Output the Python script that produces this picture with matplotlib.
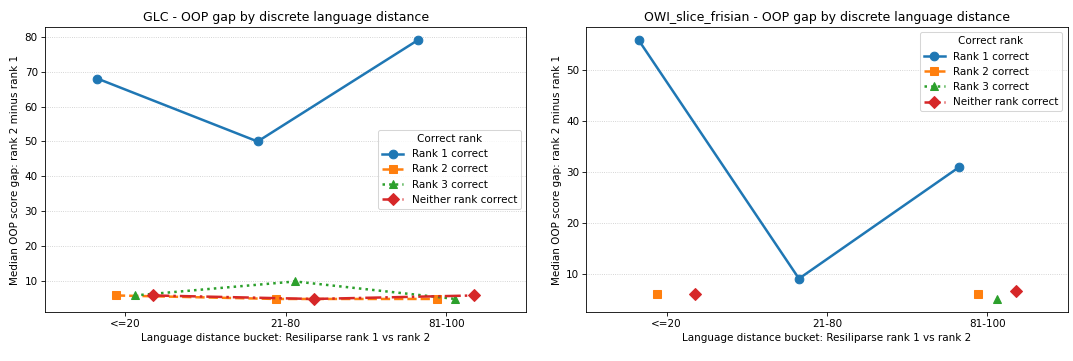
import numpy as np
import matplotlib
matplotlib.use('Agg')
import matplotlib.pyplot as plt

buckets = ['<=20', '21-80', '81-100']
groups = ['Rank 1 correct', 'Rank 2 correct', 'Rank 3 correct', 'Neither rank correct']

# median OOP gap per bucket, NaN where a group has no rows
glc_values = {
    'Rank 1 correct': [68, 50, 79],
    'Rank 2 correct': [6, 5, 5],
    'Rank 3 correct': [6, 10, 5],
    'Neither rank correct': [6, 5, 6],
}
owi_values = {
    'Rank 1 correct': [56, 9, 31],
    'Rank 2 correct': [6, np.nan, 6],
    'Rank 3 correct': [np.nan, np.nan, 5],
    'Neither rank correct': [6, np.nan, 6.5],
}

colors = ['#1f77b4', '#ff7f0e', '#2ca02c', '#d62728']
markers = ['o', 's', '^', 'D']
linestyles = ['-', '--', ':', '-.']


def gap_plot(ax, values, title, legend_loc):
    x = np.arange(len(buckets))
    offsets = np.linspace(-0.175, 0.175, len(groups))
    for i, g in enumerate(groups):
        ax.plot(x + offsets[i], values[g], color=colors[i], marker=markers[i],
                linestyle=linestyles[i], linewidth=2.4, markersize=8.3, label=g)
    ax.set_xticks(x)
    ax.set_xticklabels(buckets)
    ax.set_xlim(-0.5, len(buckets) - 0.5)
    ax.grid(axis='y', linestyle=':', color='#bbbbbb', linewidth=0.8, alpha=0.8)
    ax.set_axisbelow(True)
    ax.set_title(title)
    ax.set_xlabel('Language distance bucket: Resiliparse rank 1 vs rank 2')
    ax.set_ylabel('Median OOP score gap: rank 2 minus rank 1')
    ax.legend(title='Correct rank', loc=legend_loc)


fig, axes = plt.subplots(1, 2, figsize=(1073 / 75, 361 / 75), dpi=75)
gap_plot(axes[0], glc_values, 'GLC - OOP gap by discrete language distance', 'center right')
gap_plot(axes[1], owi_values, 'OWI_slice_frisian - OOP gap by discrete language distance', 'upper right')

plt.subplots_adjust(left=0.042, right=0.995, top=0.925, bottom=0.136, wspace=0.125)
plt.savefig('out.png')
plt.close()
